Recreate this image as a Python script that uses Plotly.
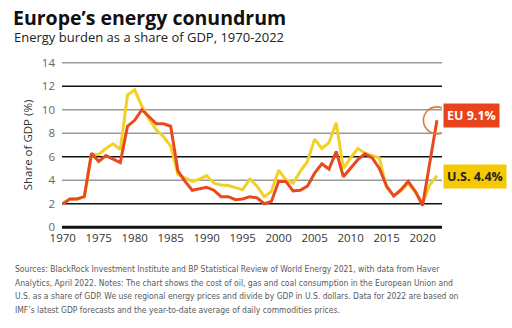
import plotly.graph_objects as go

years = list(range(1970, 2023))
eu = [2.0, 2.4, 2.4, 2.6, 6.3, 5.6, 6.1, 5.8, 5.5, 8.6,
      9.1, 10.0, 9.4, 8.8, 8.8, 8.6, 4.8, 3.9, 3.15, 3.3,
      3.4, 3.15, 2.6, 2.6, 2.35, 2.4, 2.6, 2.5, 2.0, 2.2,
      3.9, 3.9, 3.1, 3.15, 3.5, 4.6, 5.4, 4.95, 6.45, 4.3,
      5.0, 5.75, 6.25, 5.9, 5.0, 3.5, 2.65, 3.2, 3.9, 3.05,
      1.85, 5.45, 9.1]
us = [2.0, 2.4, 2.4, 2.6, 6.2, 6.2, 6.7, 7.1, 6.6, 11.25,
      11.7, 10.3, 9.2, 8.3, 7.7, 6.9, 4.5, 4.2, 3.9, 4.1,
      4.4, 3.75, 3.6, 3.55, 3.35, 3.2, 4.1, 3.5, 2.6, 3.05,
      4.85, 4.05, 3.75, 4.75, 5.6, 7.5, 6.7, 7.2, 8.9, 5.0,
      5.9, 6.7, 6.3, 6.1, 5.9, 3.35, 2.7, 3.1, 3.75, 3.0,
      2.05, 3.6, 4.4]
y_ticks = [0, 2, 4, 6, 8, 10, 12, 14]
x_ticks = list(range(1970, 2021, 5))
grid_colors = {0: "#111111", 2: "#111111", 4: "#999999", 6: "#111111",
               8: "#999999", 10: "#999999", 12: "#111111", 14: "#999999"}
footnote_lines = [
    "Sources: BlackRock Investment Institute and BP Statistical Review of World Energy 2021, with data from Haver",
    "Analytics, April 2022. Notes: The chart shows the cost of oil, gas and coal consumption in the European Union and",
    "U.S. as a share of GDP. We use regional energy prices and divide by GDP in U.S. dollars. Data for 2022 are based on",
    "IMF\u2019s latest GDP forecasts and the year-to-date average of daily commodities prices.",
]

EU_COL = "#e64a1e"
US_COL = "#f2d126"

fig = go.Figure()
fig.add_trace(go.Scatter(x=years, y=us, mode="lines",
                         line=dict(color=US_COL, width=3), hoverinfo="skip"))
fig.add_trace(go.Scatter(x=years, y=eu, mode="lines",
                         line=dict(color=EU_COL, width=3), hoverinfo="skip"))
fig.add_trace(go.Scatter(x=[years[-1]], y=[eu[-1]], mode="markers",
                         marker=dict(symbol="circle-open", size=27, color="#e07a3c",
                                     line=dict(color="#e07a3c", width=1.6)),
                         hoverinfo="skip"))

shapes = []
for v in y_ticks:
    shapes.append(dict(type="line", xref="paper", yref="y", x0=0, x1=1,
                       y0=v, y1=v, layer="below",
                       line=dict(color=grid_colors[v], width=3 if v == 0 else 1.3)))

annotations = [
    dict(xref="paper", yref="y", x=1.003, y=9.55, xanchor="left", yanchor="middle",
         text="<b>EU 9.1%</b>", showarrow=False, bgcolor="#e8431c",
         font=dict(color="white", size=12.5, family="Open Sans"), borderpad=3),
    dict(xref="paper", yref="y", x=1.003, y=4.3, xanchor="left", yanchor="middle",
         text="<b>U.S. 4.4%</b>", showarrow=False, bgcolor="#f5c900",
         font=dict(color="#222222", size=12.5, family="Open Sans"), borderpad=3),
    dict(xref="paper", yref="paper", x=-0.135, y=1.256, xanchor="left", yanchor="middle",
         text="<b>Europe\u2019s energy conundrum</b>", showarrow=False,
         font=dict(color="#111111", size=19.5, family="Open Sans")),
    dict(xref="paper", yref="paper", x=-0.132, y=1.14, xanchor="left", yanchor="middle",
         text="Energy burden as a share of GDP, 1970-2022", showarrow=False,
         font=dict(color="#222222", size=13, family="Open Sans")),
]
for i, line in enumerate(footnote_lines):
    annotations.append(dict(
        xref="paper", yref="paper", x=-0.13, y=-0.238 - i * 0.0815,
        xanchor="left", yanchor="middle", align="left", showarrow=False,
        text=line,
        font=dict(color="#5a5a5a", size=8.5,
                  family="DejaVu Sans Condensed, Liberation Sans Narrow, Liberation Sans")))

fig.update_layout(
    width=512, height=328,
    margin=dict(l=62, r=70, t=61, b=99),
    paper_bgcolor="white", plot_bgcolor="white",
    showlegend=False,
    shapes=shapes,
    annotations=annotations,
    xaxis=dict(range=[1969.9, 2022.7], tickvals=x_ticks, showgrid=False,
               zeroline=False, showline=False, ticks="",
               tickfont=dict(color="#333333", size=11.5, family="Open Sans")),
    yaxis=dict(range=[-0.15, 14.15], tickvals=y_ticks, showgrid=False,
               zeroline=False, showline=False, ticks="", ticklabelstandoff=6,
               title=dict(text="Share of GDP (%)", standoff=6,
                          font=dict(color="#333333", size=11.5, family="Open Sans")),
               tickfont=dict(color="#666666", size=11.5, family="Open Sans")),
)

fig.write_html("out.html")
